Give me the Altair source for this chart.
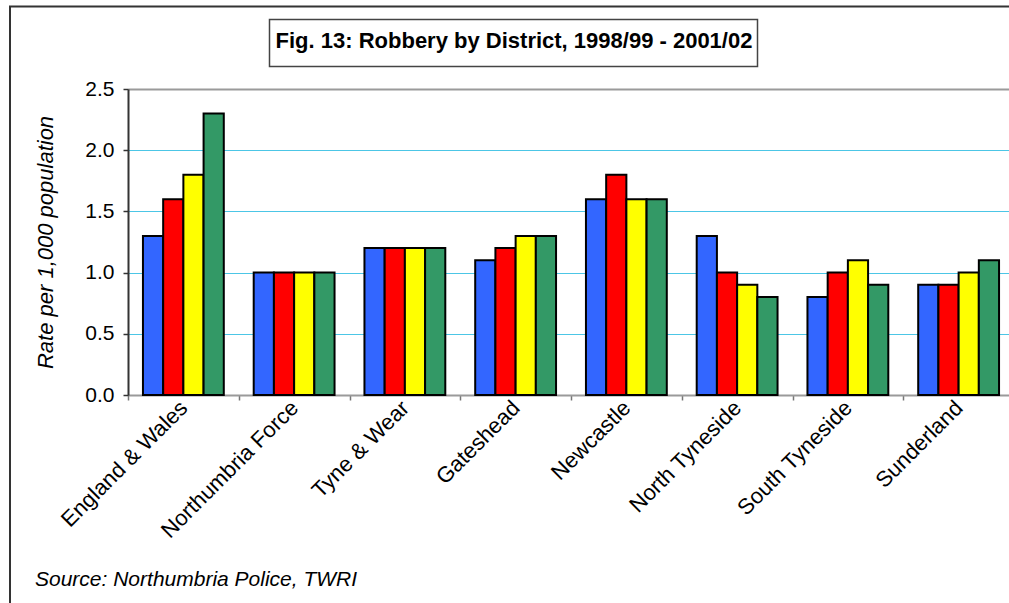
import altair as alt
import pandas as pd

# Robbery rate per 1,000 population, by district and financial year
districts = ["England & Wales", "Northumbria Force", "Tyne & Wear", "Gateshead",
             "Newcastle", "North Tyneside", "South Tyneside", "Sunderland"]
years = ["1998/99", "1999/00", "2000/01", "2001/02"]
rate_1998_99 = [1.3, 1.0, 1.2, 1.1, 1.6, 1.3, 0.8, 0.9]
rate_1999_00 = [1.6, 1.0, 1.2, 1.2, 1.8, 1.0, 1.0, 0.9]
rate_2000_01 = [1.8, 1.0, 1.2, 1.3, 1.6, 0.9, 1.1, 1.0]
rate_2001_02 = [2.3, 1.0, 1.2, 1.3, 1.6, 0.8, 0.9, 1.1]
bar_colors = ["#3366FF", "#FF0000", "#FFFF00", "#339966"]
y_ticks = [0.0, 0.5, 1.0, 1.5, 2.0, 2.5]

title_text = "Fig. 13: Robbery by District, 1998/99 - 2001/02"
source_text = "Source: Northumbria Police, TWRI"
y_title = "Rate per 1,000 population"

series = [rate_1998_99, rate_1999_00, rate_2000_01, rate_2001_02]
rows = []
for year, values in zip(years, series):
    for district, v in zip(districts, values):
        rows.append({"district": district, "year": year, "rate": v})
df = pd.DataFrame(rows)

FONT = "Liberation Sans"
W, H = 881, 306

bars = alt.Chart(df).mark_bar(stroke="black", strokeWidth=2).encode(
    x=alt.X(
        "district:N",
        sort=districts,
        scale=alt.Scale(range=[0, 886], paddingInner=0, paddingOuter=0),
        axis=alt.Axis(
            title=None,
            labelAngle=315,
            labelAlign="right",
            labelBaseline="middle",
            labelFont=FONT,
            labelFontSize=22,
            labelColor="black",
            labelPadding=4,
            labelLimit=400,
            labelOverlap=False,
            tickBand="extent",
            tickColor="#777777",
            tickSize=5,
            tickWidth=1.5,
            domainColor="#9a9a9a",
            domainWidth=2,
            grid=False,
        ),
    ),
    xOffset=alt.XOffset(
        "year:N", sort=years, scale=alt.Scale(paddingInner=0, paddingOuter=0.74)
    ),
    y=alt.Y(
        "rate:Q",
        scale=alt.Scale(domain=[0, 2.5], nice=False),
        axis=alt.Axis(
            values=y_ticks,
            format=".1f",
            title=y_title,
            titleFont=FONT,
            titleFontSize=22,
            titleFontStyle="italic",
            titleFontWeight="normal",
            titleColor="black",
            titleAngle=270,
            titleAlign="center",
            titleBaseline="middle",
            titleX=-83,
            titleY=H / 2,
            labelFont=FONT,
            labelFontSize=21,
            labelColor="black",
            labelPadding=9,
            tickColor="#333333",
            tickSize=5,
            tickWidth=1.5,
            domainColor="#333333",
            domainWidth=2,
            grid=True,
            gridColor=alt.condition(
                "datum.value >= 2.5", alt.value("#9a9a9a"), alt.value("#4cc6e6")
            ),
            gridWidth=alt.condition(
                "datum.value >= 2.5", alt.value(2), alt.value(1.2)
            ),
        ),
    ),
    color=alt.Color(
        "year:N", sort=years,
        scale=alt.Scale(domain=years, range=bar_colors), legend=None
    ),
)

one = pd.DataFrame({"k": [0]})

# outer frame (left and top edges)
frame_left = alt.Chart(one).mark_rule(color="#333333", strokeWidth=2).encode(
    x=alt.value(-118), y=alt.value(-82.5), y2=alt.value(520)
)
frame_top = alt.Chart(one).mark_rule(color="#333333", strokeWidth=2).encode(
    x=alt.value(-119), x2=alt.value(900), y=alt.value(-82.5)
)

# boxed chart title
title_box = alt.Chart(one).mark_rect(
    fill="white", stroke="#444444", strokeWidth=1.5
).encode(
    x=alt.value(141.5), x2=alt.value(629.5), y=alt.value(-69.5), y2=alt.value(-22.5)
)
title_label = alt.Chart(one).mark_text(
    text=title_text, font=FONT, fontSize=22, fontWeight="bold",
    align="center", baseline="alphabetic", color="black"
).encode(x=alt.value(386), y=alt.value(-41))

source_label = alt.Chart(one).mark_text(
    text=source_text, font=FONT, fontSize=21, fontStyle="italic",
    align="left", baseline="alphabetic", color="black"
).encode(x=alt.value(-93), y=alt.value(497))

chart = alt.layer(
    bars, frame_left, frame_top, title_box, title_label, source_label
).properties(
    width=W,
    height=H,
    autosize=alt.AutoSizeParams(type="none"),
    padding={"left": 128, "top": 89, "right": 0, "bottom": 208},
).configure_view(
    stroke=None
).configure(
    background="white"
)

chart.save("out.html", embed_options={"renderer": "svg", "actions": False})
